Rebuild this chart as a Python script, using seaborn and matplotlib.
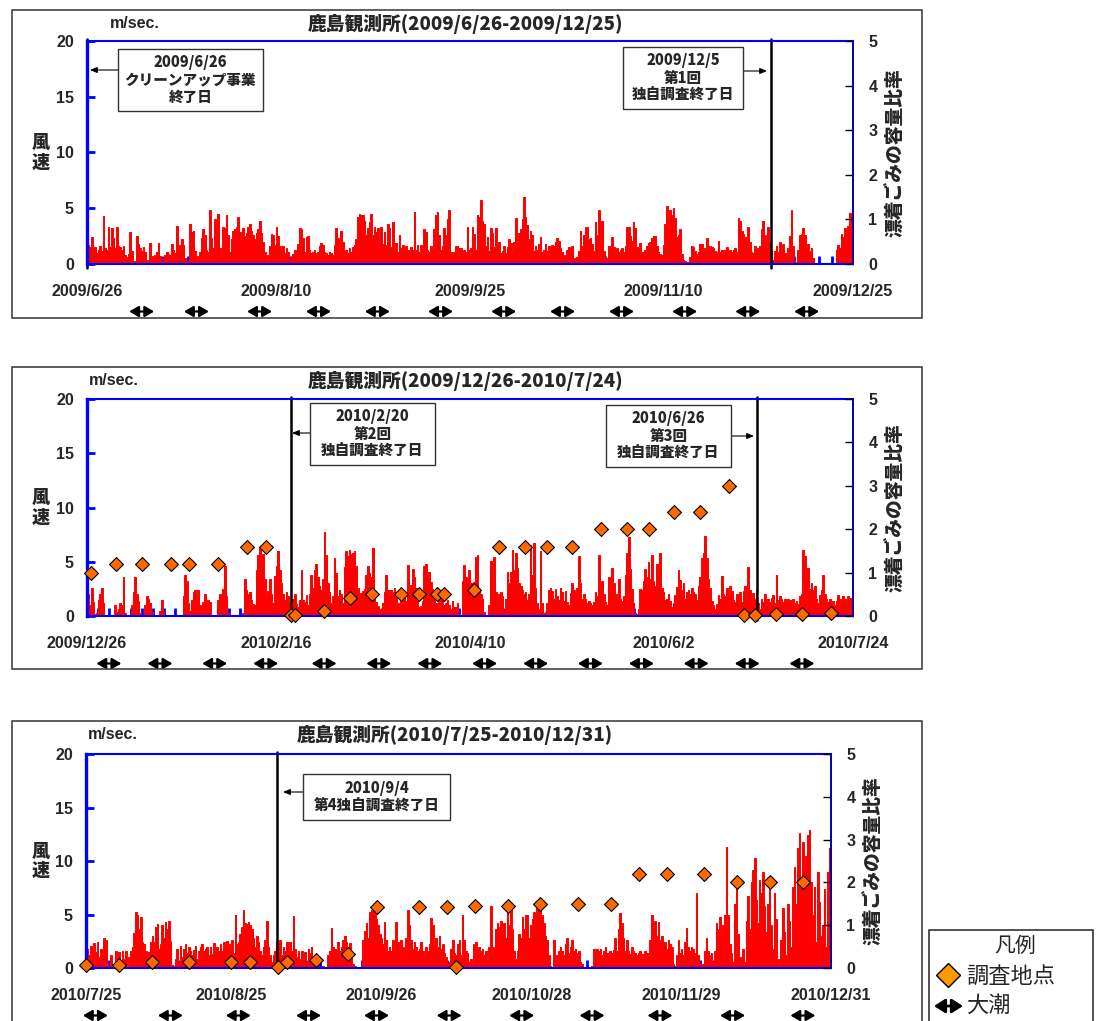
import pandas as pd
import matplotlib
matplotlib.use("Agg")
import matplotlib.pyplot as plt
import matplotlib.dates as mdates
import matplotlib.transforms as mtransforms
from matplotlib.patches import Rectangle, FancyArrowPatch
from matplotlib.lines import Line2D
from matplotlib.ticker import MultipleLocator
import seaborn as sns

# ---------------- data ----------------
# panel 1 : 2009/6/26 - 2009/12/25
p1_xlabels = ['2009/6/26', '2009/8/10', '2009/9/25', '2009/11/10', '2009/12/25']
p1_wind = [
    1.6, 1.7, 1.5, 2.4, 1.2, 1.5, 1.0, 1.3, 1.6, 1.2, 4.3, 1.4, 1.3, 3.3, 1.5, 3.2, 2.3, 1.4, 3.3, 1.6,
    1.5, 1.3, 1.6, 0.8, 0.6, 0.9, 2.9, 1.2, 0.3, 0.3, 2.5, 1.8, 1.4, 1.2, 1.5, 1.1, 0.4, 0.2, 1.9, 0.7,
    0.6, 0.8, 1.1, 1.9, 0.7, 0.3, 0.5, 0.8, 1.1, 0.9, 0.8, 1.8, 1.3, 1.0, 3.4, 1.2, 1.7, 2.2, 1.7, 0.5,
    0.2, 0.3, 3.6, 2.9, 3.0, 1.2, 0.4, 0.7, 1.1, 2.3, 3.1, 2.6, 1.3, 1.1, 4.8, 2.3, 1.4, 4.0, 2.8, 4.5,
    1.4, 0.7, 3.3, 3.2, 4.4, 2.6, 1.1, 2.2, 3.0, 3.1, 3.3, 4.2, 2.9, 2.6, 3.2, 2.5, 2.8, 3.3, 3.6, 3.0,
    2.6, 2.2, 2.8, 3.1, 3.9, 2.8, 2.0, 1.1, 0.5, 0.8, 1.6, 2.7, 2.6, 1.7, 3.3, 2.5, 1.6, 1.1, 1.6, 1.0,
    1.4, 1.1, 0.4, 0.7, 0.9, 1.3, 1.2, 1.8, 3.2, 3.1, 2.3, 1.1, 2.4, 2.5, 1.3, 1.0, 1.1, 1.3, 1.0, 1.1,
    1.6, 1.9, 1.7, 1.1, 1.0, 0.8, 1.1, 1.0, 0.8, 1.7, 3.2, 2.3, 1.4, 3.0, 2.0, 0.8, 1.3, 1.0, 1.4, 1.1,
    1.5, 1.7, 2.2, 4.2, 4.5, 4.4, 4.4, 3.9, 2.6, 3.2, 3.8, 4.5, 2.6, 3.3, 2.9, 3.2, 2.3, 3.3, 1.8, 2.9,
    1.7, 3.6, 3.2, 1.5, 3.8, 1.1, 1.9, 1.1, 2.6, 1.4, 1.7, 1.1, 1.6, 1.3, 1.1, 1.5, 1.3, 4.7, 1.3, 1.7,
    1.1, 1.7, 1.4, 3.1, 2.9, 1.3, 1.1, 1.6, 1.4, 3.1, 4.4, 4.7, 2.6, 1.3, 1.6, 3.2, 2.6, 4.0, 4.8, 1.1,
    0.8, 1.1, 1.6, 1.6, 1.4, 1.4, 1.1, 1.3, 1.1, 3.3, 1.3, 1.4,
    3.3, 2.7, 1.3, 4.4, 4.2, 5.7, 3.9, 3.6, 1.6, 2.4, 1.2, 3.2, 2.8, 1.5, 3.2, 1.7, 2.0, 1.0, 1.2, 1.6,
    1.0, 1.5, 2.2, 1.9, 1.1, 2.0, 4.1, 2.3, 2.8, 3.1, 4.0, 6.0, 4.2, 3.5, 2.2, 3.0, 2.6, 1.2, 1.6, 1.3,
    1.8, 2.4, 1.1, 1.3, 1.8, 1.2, 1.6, 1.3, 1.7, 1.6, 2.0, 2.3, 2.1, 1.4, 1.1, 0.8, 0.4, 1.3, 1.5, 1.5,
    1.6, 0.5, 0.4, 0.6, 1.2, 3.0, 1.6, 2.6, 3.3, 3.3, 2.2, 2.3, 1.8, 1.2, 3.8, 2.6, 4.8, 1.9, 3.9, 1.2,
    0.4, 0.5, 1.6, 1.5, 2.4, 1.5, 1.3, 1.4, 1.1, 1.3, 1.4, 1.1, 1.6, 3.3, 3.3, 2.5, 2.1, 3.8, 3.2, 1.5,
    1.5, 1.9, 1.1, 0.5, 1.3, 1.6, 1.9, 2.0, 2.3, 2.5, 2.5, 1.6, 1.1, 0.9, 0.8, 1.7, 3.6, 5.2, 3.2, 4.8,
    4.4, 5.0, 4.1, 2.4, 2.6, 3.1, 0.9, 0.4, 0.3, 0.2, 0.2, 0.6, 1.6, 1.5, 1.2, 0.9, 1.1, 1.8, 1.8, 1.1,
    1.4, 2.3, 1.3, 1.6, 1.5, 1.4, 1.2, 1.1, 2.1, 1.1, 1.3, 1.0, 1.3, 1.5, 1.2, 1.3, 1.1, 1.3, 1.4, 1.1,
    4.1, 3.9, 3.0, 2.7, 2.4, 1.9, 3.3, 2.0, 1.1, 1.0, 1.6, 1.4, 1.4, 1.6, 3.1, 3.9, 2.6, 1.5, 3.3, 2.0,
    1.2, 0.4, 1.2, 1.6, 1.1, 2.0, 1.4, 1.8, 1.0, 0.6, 1.4, 2.5, 4.8, 1.6, 0.2, 0.1, 1.3, 2.6, 2.7, 3.2,
    2.6, 1.6, 1.8, 1.2, 1.4, 0.5, 0.1, 0, 0, 0, 0, 0, 0, 0, 0, 0, 0, 0, 0, 1.3,
    1.7, 1.4, 2.7, 2.4, 3.2, 2.3, 3.4, 4.6, 2.8, 1.3,
]
p1_tide = ['2009-07-09', '2009-07-22', '2009-08-06', '2009-08-20', '2009-09-03', '2009-09-18',
           '2009-10-03', '2009-10-17', '2009-10-31', '2009-11-15', '2009-11-30', '2009-12-14']
p1_events = ['2009-06-26', '2009-12-05 10:00']
p1_site_dates = []
p1_site_ratio = []

# panel 2 : 2009/12/26 - 2010/7/24
p2_xlabels = ['2009/12/26', '2010/2/16', '2010/4/10', '2010/6/2', '2010/7/24']
p2_wind = [
    2.2, 2.0, 1.0, 2.6, 1.3, 0.2, 0.3, 1.5, 2.0, 2.6, 1.2, 0.1, 0.1, 0, 0, 0, 0, 1.0, 0.4, 0.6,
    1.2, 1.0, 3.6, 0.3, 0, 0, 0, 1.0, 2.2, 3.6, 2.0, 1.4, 0.3, 0, 0, 1.0, 1.8, 1.6, 1.2, 0.4,
    0, 0, 0, 0, 0.5, 1.5, 0.4, 0, 0, 0, 0, 0, 0, 0, 0, 0, 0, 0, 1.8, 3.8,
    3.2, 1.2, 0.5, 1.5, 2.2, 2.4, 1.8, 2.4, 1.0, 0.5, 1.3, 2.0, 1.2, 1.5, 1.3, 0.1, 0, 0, 0, 1.5,
    2.0, 1.8, 2.5, 4.6, 1.8, 0.3, 0, 0, 0, 0, 0, 0, 0, 0, 0.3, 3.4, 2.4, 2.0, 2.2, 1.5,
    1.1, 1.0, 4.2, 5.6, 6.3, 4.5, 5.7, 3.4, 1.8, 2.3, 3.4, 2.0, 1.2, 3.7, 4.6, 6.0, 4.2, 3.0, 2.0, 1.5,
    2.2, 1.8, 1.2, 0.7, 1.6, 2.0, 1.1, 0.8, 1.5, 4.2, 1.5, 1.3, 1.9, 1.0, 2.0, 3.8, 2.6, 4.2, 4.8, 3.6,
    2.8, 2.4, 3.4, 7.7, 5.6, 3.0, 2.2, 1.2, 1.8, 5.3, 4.0, 1.8, 2.4, 2.0, 1.2, 4.5, 6.0, 5.5, 6.1, 5.7,
    5.8, 6.0, 4.6, 2.6, 1.6, 2.1, 2.3, 2.5, 3.8, 4.6, 4.0, 3.6, 6.3, 2.4, 1.3, 0.9, 0.4, 0.6, 1.2, 2.2,
    3.8, 2.4, 2.0, 2.4, 2.2, 2.6, 2.2, 1.2, 0.4, 1.4, 2.2, 2.1, 1.4, 4.7, 2.6, 2.9, 4.3, 3.6, 2.6, 1.4,
    0.8, 0.9, 1.4, 4.6, 4.8, 3.0, 4.1, 3.1, 2.5, 2.0, 1.2, 0.8, 1.6, 2.4, 1.5, 1.0, 1.2, 1.5, 1.0, 0.6,
    1.4, 0.8, 0.8, 1.2, 0.2, 0, 3.2, 4.7, 3.6, 3.1, 4.2, 3.0,
    3.0, 3.1, 5.4, 5.6, 2.4, 2.0, 1.6, 0.4, 0, 0, 1.0, 5.1, 2.0, 5.4, 2.2, 1.8, 2.0, 2.2, 1.8, 0.5,
    1.6, 4.1, 3.0, 4.1, 6.1, 4.2, 5.8, 4.4, 3.0, 2.8, 2.4, 2.0, 2.2, 1.5, 2.0, 6.5, 3.8, 6.7, 2.6, 1.2,
    0.6, 6.0, 1.2, 0.3, 0.4, 1.2, 2.4, 2.6, 2.3, 1.6, 2.5, 1.8, 1.5, 2.6, 2.2, 1.4, 2.3, 1.3, 1.0, 2.1,
    3.0, 2.4, 1.4, 2.6, 5.5, 3.0, 1.6, 2.0, 1.6, 1.2, 1.4, 1.2, 1.0, 1.3, 2.2, 1.8, 5.6, 2.4, 3.2, 2.0,
    1.3, 1.0, 3.6, 2.5, 4.4, 3.0, 1.8, 2.0, 3.4, 1.6, 1.4, 1.8, 3.8, 5.8, 7.3, 4.3, 2.5, 1.2, 0.3, 0.2,
    0.6, 2.5, 2.4, 3.2, 4.3, 3.6, 5.0, 3.4, 5.6, 3.2, 2.8, 4.8, 3.6, 5.8, 2.6, 2.2, 1.5, 1.6, 2.0, 1.4,
    0.8, 1.2, 1.9, 2.7, 4.2, 3.3, 2.4, 3.0, 1.6, 2.2, 2.4, 2.0, 2.6, 2.2, 2.0, 1.5, 2.8, 3.6, 5.3, 5.8,
    7.4, 5.3, 3.4, 2.6, 1.4, 1.0, 0.6, 1.1, 1.9, 1.6, 3.7, 2.0, 1.8, 2.6, 2.0, 2.8, 2.3, 1.5, 1.3, 2.0,
    1.6, 2.2, 1.3, 2.3, 2.8, 1.8, 4.5, 2.4, 1.3, 2.1, 1.6, 2.4, 1.2, 0.6, 1.6, 1.3, 2.0, 1.1, 1.6, 1.3,
    1.7, 1.9, 1.2, 3.8, 1.5, 1.8, 1.6, 1.3, 1.6, 1.4, 1.6, 1.5, 1.4, 1.6, 1.2, 1.4, 1.1, 1.8, 2.0, 6.1,
    5.5, 3.5, 4.4, 2.5, 3.0, 2.4, 2.8, 1.6, 1.2, 1.9, 2.4, 3.8, 2.0, 1.6, 1.3, 1.6, 1.2, 1.4, 1.0, 1.4,
    1.9, 1.6, 1.4, 1.8, 1.6, 1.2, 1.8, 1.7, 1.5, 1.4,
]
p2_tide = ['2010-01-01', '2010-01-15', '2010-01-30', '2010-02-13', '2010-03-01', '2010-03-16',
           '2010-03-30', '2010-04-14', '2010-04-28', '2010-05-13', '2010-05-27', '2010-06-11',
           '2010-06-25', '2010-07-10']
p2_events = ['2010-02-20', '2010-06-27 14:00']
p2_site_dates = ['2009-12-27', '2010-01-03', '2010-01-10', '2010-01-18', '2010-01-23', '2010-01-31',
                 '2010-02-08', '2010-02-13', '2010-02-20', '2010-02-21', '2010-03-01', '2010-03-08',
                 '2010-03-14', '2010-03-22', '2010-03-27', '2010-04-01', '2010-04-03', '2010-04-11',
                 '2010-04-18', '2010-04-25', '2010-05-01', '2010-05-08', '2010-05-16', '2010-05-23',
                 '2010-05-29', '2010-06-05', '2010-06-12', '2010-06-20', '2010-06-24', '2010-06-27',
                 '2010-07-03', '2010-07-10', '2010-07-18']
p2_site_ratio = [1.0, 1.2, 1.2, 1.2, 1.2, 1.2,
                 1.6, 1.6, 0.02, 0.02, 0.12, 0.42,
                 0.5, 0.5, 0.5, 0.5, 0.5, 0.61,
                 1.6, 1.6, 1.6, 1.6, 2.0, 2.0,
                 2.0, 2.4, 2.4, 3.0, 0.03, 0.03,
                 0.05, 0.05, 0.08]

# panel 3 : 2010/7/25 - 2010/12/31
p3_xlabels = ['2010/7/25', '2010/8/25', '2010/9/26', '2010/10/28', '2010/11/29', '2010/12/31']
p3_wind = [
    1.3, 1.8, 1.2, 2.1, 1.4, 2.3, 1.5, 2.4, 1.0, 1.8, 1.3, 2.8, 2.6, 0.4, 0.2, 1.2, 0.2, 0, 1.6, 0.5,
    1.5, 0.3, 1.6, 0.8, 1.6, 0.2, 1.0, 1.6, 2.0, 3.3, 5.2, 5.0, 3.6, 4.8, 2.4, 2.2, 1.6, 1.3, 1.5, 2.4,
    3.0, 2.4, 3.8, 4.1, 1.8, 2.2, 4.0, 2.8, 4.3, 3.6, 4.4, 2.5, 0.3, 0.2, 0.8, 1.8, 0.6, 2.1, 1.0, 1.8,
    2.2, 1.4, 2.0, 1.6, 1.2, 1.7, 2.1, 0.8, 1.6, 2.0, 2.2, 1.6, 1.8, 2.0, 1.2, 2.0, 1.3, 2.3, 1.8, 2.0,
    1.6, 2.2, 1.6, 2.4, 1.9, 2.5, 2.2, 1.6, 2.6, 1.4, 5.0, 2.2, 2.4, 3.2, 3.8, 5.4, 4.2, 4.1, 4.3, 4.0,
    3.6, 2.8, 2.0, 3.0, 2.4, 1.6, 1.2, 2.0, 2.6, 4.4, 2.0, 1.2, 0.6, 1.2, 1.6, 2.4, 1.8, 2.6, 1.2, 2.0,
    1.6, 2.4, 1.7, 2.4, 1.6, 4.9, 1.8, 1.0, 1.6, 0.8, 1.6, 0.8, 1.5, 0.6, 1.8, 1.4, 2.0, 0.8, 0.8, 0.6,
    0.2, 0.1, 0.1, 0.2, 0, 0, 1.2, 1.6, 3.7, 2.0, 1.8, 1.4, 2.4, 1.6, 2.0, 2.6, 3.0, 2.4, 2.0, 2.3,
    1.6, 0.4, 0.2, 0, 0, 0, 0, 2.6, 3.5, 4.2, 2.8, 5.2, 5.4, 5.3, 5.1, 4.6, 4.0, 3.2, 2.8, 2.2,
    4.3, 2.6, 1.6, 2.0, 1.6, 2.6, 1.8, 4.3, 2.4, 1.8, 2.6, 2.0, 1.4, 2.8, 5.4, 4.0, 2.6, 1.8, 2.4, 2.0,
    1.6, 1.8, 2.4, 1.6, 1.2, 2.0, 1.6, 2.2, 4.7, 4.0, 2.2, 2.8, 2.0, 3.0, 1.8, 2.2, 1.4, 1.0, 0.4, 0.6,
    1.8, 2.6, 1.4, 1.2, 2.2, 2.6,
    1.2, 5.0, 2.6, 1.6, 1.4, 0.6, 0.8, 0.4, 2.2, 2.4, 1.6, 2.0, 1.6, 1.8, 1.2, 1.6, 0.8, 2.0, 5.8, 1.4,
    2.0, 3.6, 4.2, 3.8, 4.4, 3.6, 4.2, 2.8, 5.4, 4.0, 5.6, 3.6, 1.6, 0.8, 1.6, 3.2, 2.8, 4.8, 3.6, 5.0,
    5.0, 2.8, 4.0, 4.6, 5.2, 4.6, 5.6, 5.8, 6.0, 5.0, 4.2, 3.0, 2.6, 1.2, 0.2, 0, 2.6, 0.8, 1.2, 1.6,
    2.0, 1.6, 1.2, 2.2, 2.8, 1.4, 2.0, 2.6, 1.6, 1.8, 1.4, 1.6, 0.6, 0.4, 0, 0, 0, 0, 0, 0.2,
    1.8, 1.4, 1.8, 1.6, 1.8, 1.2, 1.6, 2.0, 1.4, 1.2, 1.6, 1.4, 1.7, 2.8, 1.6, 3.6, 5.1, 4.2, 2.8, 1.6,
    2.6, 1.6, 1.3, 2.0, 1.6, 1.4, 1.2, 1.4, 1.6, 1.3, 1.2, 1.6, 1.4, 1.2, 2.6, 5.0, 3.8, 4.4, 3.0, 4.3,
    2.6, 3.0, 2.2, 2.4, 1.8, 2.6, 2.2, 2.0, 0.4, 0.2, 1.2, 2.6, 1.4, 1.8, 1.2, 2.4, 3.7, 2.0, 1.6, 2.0,
    1.8, 1.4, 7.0, 1.2, 0.4, 0.2, 0.4, 1.6, 2.8, 1.6, 1.2, 1.4, 0.6, 1.6, 4.2, 3.6, 4.8, 3.2, 4.0, 5.0,
    11.3, 5.0, 2.2, 1.4, 0.6, 6.0, 8.4, 3.2, 1.0, 0.6, 1.8, 0.6, 4.4, 6.7, 3.6, 8.0, 9.2, 10.3, 6.4, 4.2,
    8.2, 7.0, 9.0, 5.8, 3.4, 6.0, 8.4, 4.0, 1.8, 7.0, 4.6, 0.8, 0.2, 2.6, 5.6, 3.4, 1.2, 6.0, 4.4, 2.0,
    7.6, 9.4, 6.0, 11.2, 12.6, 8.4, 11.8, 9.0, 10.5, 12.4, 12.9, 8.0, 5.0, 7.6, 2.4, 9.0, 6.2, 3.0, 4.0, 7.4,
    2.0, 9.0, 11.2, 10.8,
]
p3_tide = ['2010-07-27', '2010-08-12', '2010-08-26 12:00', '2010-09-10 12:00', '2010-09-25',
           '2010-10-10 12:00', '2010-10-26', '2010-11-10', '2010-11-24 12:00', '2010-12-10',
           '2010-12-25']
p3_events = ['2010-09-03 17:00']
p3_site_dates = ['2010-07-25', '2010-08-01', '2010-08-08', '2010-08-16', '2010-08-25', '2010-08-29',
                 '2010-09-04', '2010-09-06', '2010-09-12', '2010-09-19', '2010-09-25', '2010-10-04',
                 '2010-10-10', '2010-10-12', '2010-10-16', '2010-10-23', '2010-10-30', '2010-11-07',
                 '2010-11-14', '2010-11-20', '2010-11-26', '2010-12-04', '2010-12-11', '2010-12-18',
                 '2010-12-25']
p3_site_ratio = [0.06, 0.06, 0.14, 0.14, 0.14, 0.14,
                 0.02, 0.14, 0.19, 0.32, 1.43, 1.43,
                 1.43, 0.02, 1.46, 1.46, 1.49, 1.49,
                 1.49, 2.2, 2.2, 2.2, 2.0, 2.0,
                 2.0]

# ---------------- style ----------------
sns.set_theme(style="white")
plt.rcParams['font.family'] = ['Liberation Sans', 'Noto Sans CJK JP', 'DejaVu Sans']
JP = ['Noto Sans CJK JP', 'DejaVu Sans']

W, H = 1097, 1021
RED = '#FF0000'
BLUE = '#0000FF'
NAVY = '#0000A8'
SITE = '#FF6A00'

fig = plt.figure(figsize=(W / 100, H / 100), dpi=100)


def fx(x):
    return x / W


def fy(y):
    return 1 - y / H


def rect_px(x0, y0, x1, y1, **kw):
    return Rectangle((fx(x0), fy(y1)), (x1 - x0) / W, (y1 - y0) / H,
                     transform=fig.transFigure, **kw)


def px_arrow(x0, x1, y):
    # small arrow from a note box to the event line
    fig.add_artist(FancyArrowPatch(
        (fx(x0), fy(y)), (fx(x1), fy(y)), transform=fig.transFigure,
        arrowstyle='-|>,head_length=0.6,head_width=0.25', mutation_scale=7,
        color='black', lw=0.8, shrinkA=0, shrinkB=0))


panels = [
    dict(wind=p1_wind, labels=p1_xlabels, tide=p1_tide, events=p1_events,
         site_dates=p1_site_dates, site_ratio=p1_site_ratio,
         title='鹿島観測所(2009/6/26-2009/12/25)',
         axes=(87, 41, 853, 264), frame=(12, 10, 922, 318), title_y=24, unit_xy=(110, 24),
         rlab_x=895,
         notes=[('2009/6/26\nクリーンアップ事業\n終了日', (118, 49, 263, 111), (118, 90, 70)),
                ('2009/12/5\n第1回\n独自調査終了日', (623, 47, 743, 109), (743, 767, 71))]),
    dict(wind=p2_wind, labels=p2_xlabels, tide=p2_tide, events=p2_events,
         site_dates=p2_site_dates, site_ratio=p2_site_ratio,
         title='鹿島観測所(2009/12/26-2010/7/24)',
         axes=(87, 399, 853, 616), frame=(12, 367, 922, 669), title_y=381, unit_xy=(89, 380),
         rlab_x=895,
         notes=[('2010/2/20\n第2回\n独自調査終了日', (310, 403, 435, 465), (310, 292, 433)),
                ('2010/6/26\n第3回\n独自調査終了日', (606, 405, 731, 467), (731, 754, 436))]),
    dict(wind=p3_wind, labels=p3_xlabels, tide=p3_tide, events=p3_events,
         site_dates=p3_site_dates, site_ratio=p3_site_ratio,
         title='鹿島観測所(2010/7/25-2010/12/31)',
         axes=(86, 754, 831, 968), frame=(12, 721, 922, 1060), title_y=735, unit_xy=(88, 734),
         rlab_x=873,
         notes=[('2010/9/4\n第4独自調査終了日', (303, 774, 450, 820), (303, 283, 792))]),
]

for p in panels:
    x0, y0, x1, y1 = p['axes']
    fig.add_artist(rect_px(*p['frame'], fill=False, ec='#333333', lw=1.1))

    ax = fig.add_axes([fx(x0), fy(y1), (x1 - x0) / W, (y1 - y0) / H])
    ax.set_axisbelow(True)
    lab_dates = pd.to_datetime(p['labels'], format='%Y/%m/%d')
    start, end = lab_dates[0], lab_dates[-1]
    t = pd.date_range(start, end, periods=len(p['wind']))

    # wind speed: spiky hourly-like trace
    ax.fill_between(t, 0, p['wind'], step='mid', color=RED, lw=0, zorder=1.5)
    sns.lineplot(x=t, y=p['wind'], ax=ax, color=RED, lw=0.7, estimator=None,
                 drawstyle='steps-mid', zorder=1.6)

    for ev in p['events']:
        ax.axvline(pd.Timestamp(ev), ymin=-0.02, ymax=1.01, color='black', lw=1.8,
                   clip_on=False, zorder=2.2)

    ax.set_xlim(start, end)
    ax.set_ylim(0, 20)
    ax.set_xlabel('')
    ax.set_ylabel('')
    ax.set_yticks([0, 5, 10, 15, 20])
    ax.tick_params(axis='y', which='major', left=True, right=False, direction='in', length=6,
                   width=2, color=BLUE, pad=9.5, labelsize=11.5)
    ax.set_xticks(lab_dates)
    ax.set_xticklabels(p['labels'])
    ax.tick_params(axis='x', which='major', bottom=True, length=0, pad=14.5, labelsize=11.5)
    ax.xaxis.set_minor_locator(MultipleLocator(3))
    ax.tick_params(axis='x', which='minor', bottom=True, top=False, direction='in', length=6,
                   width=2, color=BLUE)
    for lab in ax.get_xticklabels() + ax.get_yticklabels():
        lab.set_fontweight('bold')
    ax.spines['left'].set_color(BLUE)
    ax.spines['left'].set_linewidth(2.4)
    ax.spines['top'].set_color(BLUE)
    ax.spines['top'].set_linewidth(1.5)
    ax.spines['bottom'].set_color(BLUE)
    ax.spines['bottom'].set_linewidth(1.5)
    ax.spines['right'].set_visible(False)

    ax2 = ax.twinx()
    ax2.set_ylim(0, 5)
    ax2.set_yticks(range(6))
    ax2.tick_params(axis='y', right=True, direction='in', length=6, width=1, color='black',
                    pad=11, labelsize=11.5)
    for lab in ax2.get_yticklabels():
        lab.set_fontweight('bold')
    for side in ['left', 'top', 'bottom']:
        ax2.spines[side].set_visible(False)
    ax2.spines['right'].set_color(NAVY)
    ax2.spines['right'].set_linewidth(1.4)
    ax2.grid(False)
    ax2.set_ylabel('')
    if p['site_dates']:
        sns.scatterplot(x=pd.to_datetime(p['site_dates']), y=p['site_ratio'], ax=ax2,
                        marker='D', s=50, color=SITE, edgecolor='black', linewidth=0.8,
                        zorder=5, clip_on=False, legend=False)
    ax2.set_xlim(start, end)

    # spring tide arrows below the date labels
    base = ax.get_xaxis_transform()
    tr_l = base + mtransforms.ScaledTranslation(-0.125, -0.475, fig.dpi_scale_trans)
    tr_r = base + mtransforms.ScaledTranslation(0.125, -0.475, fig.dpi_scale_trans)
    for d in p['tide']:
        xd = mdates.date2num(pd.Timestamp(d))
        ax.annotate('', xy=(xd, 0), xycoords=tr_r, xytext=(xd, 0), textcoords=tr_l,
                    annotation_clip=False,
                    arrowprops=dict(arrowstyle='<|-|>,head_length=0.55,head_width=0.32',
                                    mutation_scale=10, color='black', lw=1.6,
                                    shrinkA=0, shrinkB=0))

    # texts around the panel
    fig.text(fx((x0 + x1) / 2 - 4), fy(p['title_y']), p['title'], ha='center', va='center',
             fontsize=13.5, fontweight='heavy', family=JP)
    fig.text(fx(p['unit_xy'][0]), fy(p['unit_xy'][1]), 'm/sec.', ha='left', va='center',
             fontsize=11.5, fontweight='bold')
    fig.text(fx(41), fy((y0 + y1) / 2), '風\n速', ha='center', va='center', fontsize=13,
             fontweight='heavy', family=JP, linespacing=1.05)
    fig.text(fx(p['rlab_x']), fy((y0 + y1) / 2), '漂着ごみの容量比率', rotation=90,
             ha='center', va='center', fontsize=13.5, fontweight='heavy', family=JP)

    for txt, (bx0, by0, bx1, by1), (ax0_, ax1_, ay) in p['notes']:
        fig.add_artist(rect_px(bx0, by0, bx1, by1, fc='white', ec='#333333', lw=1.0, zorder=6))
        fig.text(fx((bx0 + bx1) / 2), fy((by0 + by1) / 2), txt, ha='center', va='center',
                 fontsize=10.5, fontweight='heavy', family=JP, linespacing=1.2, zorder=7)
        px_arrow(ax0_, ax1_, ay)

# legend box (bottom right)
fig.add_artist(rect_px(929, 930, 1093, 1060, fill=False, ec='#222222', lw=1.1))
fig.text(fx(1015), fy(946), '凡例', ha='center', va='center', fontsize=15, family=JP)
fig.add_artist(Line2D([fx(948)], [fy(975)], transform=fig.transFigure, ls='none', marker='D',
                      ms=12, mfc='#FF9900', mec='black', mew=1.0))
fig.text(fx(966), fy(976), '調査地点', ha='left', va='center', fontsize=16, family=JP)
fig.add_artist(FancyArrowPatch(
    (fx(934), fy(1006)), (fx(963), fy(1006)), transform=fig.transFigure,
    arrowstyle='<|-|>,head_length=0.55,head_width=0.35', mutation_scale=12,
    color='black', lw=2, shrinkA=0, shrinkB=0))
fig.text(fx(966), fy(1005), '大潮', ha='left', va='center', fontsize=16, family=JP)

fig.savefig('out.png', dpi=100)
